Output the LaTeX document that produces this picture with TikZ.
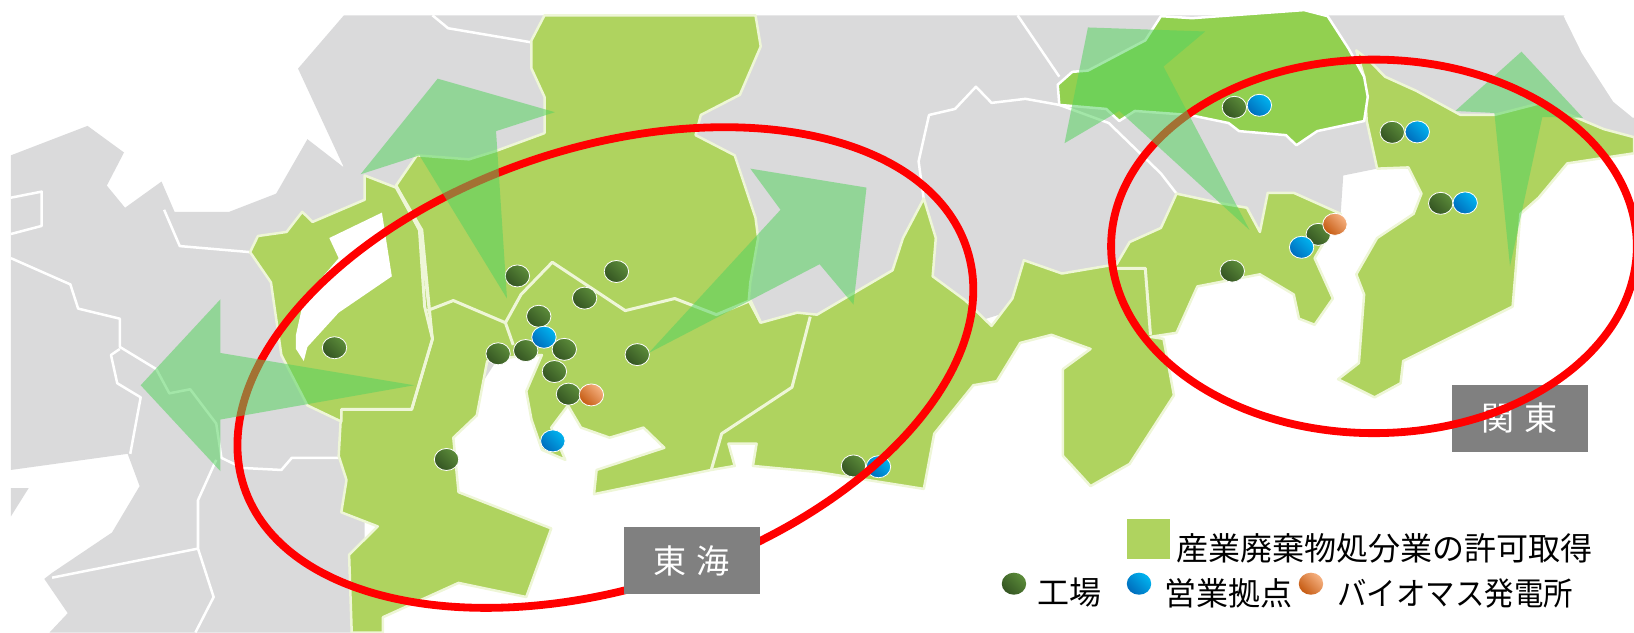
\documentclass[tikz,border=0pt]{standalone}
\usepackage{fontspec}
\newfontfamily\jp{Noto Sans CJK JP}
\definecolor{land}{RGB}{218,218,219}
\definecolor{licgreen}{RGB}{175,211,95}
\definecolor{brightgreen}{RGB}{146,208,80}
\definecolor{arrowgreen}{RGB}{85,210,95}
\definecolor{halo}{RGB}{238,246,215}
\definecolor{gA}{RGB}{92,140,58}\definecolor{gB}{RGB}{52,84,34}
\definecolor{bA}{RGB}{0,180,240}\definecolor{bB}{RGB}{0,108,188}
\definecolor{oA}{RGB}{246,178,130}\definecolor{oB}{RGB}{197,90,17}
\tikzset{
 greenland/.style={fill=licgreen,draw=halo,line width=0.025cm,line join=round},
 border/.style={draw=white,line width=0.025cm,line join=round},
 prefline/.style={draw=halo,line width=0.03cm,line join=round},
 arrowshape/.style={fill=arrowgreen,fill opacity=.54,draw=none},
 regionring/.style={draw=red,line width=0.078cm},
 regionbox/.style={fill=black!50,text=white,inner sep=0pt,minimum width=1.356cm,minimum height=0.668cm,font=\jp\fontsize{9.4pt}{11pt}\selectfont},
 legendtext/.style={inner sep=0pt,text=black,font=\jp\fontsize{9.1pt}{11pt}\selectfont},
}
\newcommand{\spot}[4][white]{\path[draw=#1,line width=0.008cm,shading=axis,left color=#4A,right color=#4B,shading angle=-45] (#2,#3) ellipse [x radius=0.122cm,y radius=0.11cm];}
\begin{document}
\begin{tikzpicture}[x=0.0052105cm,y=-0.0040242cm]
\useasboundingbox (0,0) rectangle (3136,1568);
% land
\fill[land] (660,38)--(3003,38)--(3038,130)--(3098,250)--(3136,290)--(3136,340)--(2868,420)--(2643,418)--(2578,435)--(2573,530)--(2368,600)--(1868,800)--(1000,800)--(900,1000)--(700,1100)--(700,1568)--(95,1568)--(130,1520)--(85,1435)--(100,1420)--(215,1320)--(268,1205)--(245,1125)--(21,1165)--(21,385)--(168,312)--(238,378)--(205,460)--(240,515)--(310,450)--(335,525)--(440,525)--(530,480)--(590,345)--(660,415)--(572,170)--cycle;
\fill[land] (21,1210)--(55,1210)--(21,1280)--cycle;
% grey boundaries
\draw[border] (21,490)--(80,475)--(80,560)--(21,580);
\draw[border] (21,640)--(135,705)--(150,765)--(230,790)--(230,860)--(300,915)--(325,975)--(365,965)--(415,1050)--(425,1135)--(465,1160)--(540,1165)--(560,1135)--(650,1135);
\draw[border] (230,865)--(213,880)--(225,950)--(270,985)--(250,1125);
\draw[border] (415,1140)--(380,1240)--(380,1360)--(410,1480)--(375,1568);
\draw[border] (100,1432)--(380,1360);
\draw[border] (315,520)--(345,610)--(480,625);
\draw[border] (830,38)--(860,70)--(1020,105);
\draw[border] (1953,38)--(2033,190);
\draw[border] (1773,495)--(1763,400)--(1783,285)--(1833,270)--(1873,215)--(1903,255)--(1968,245)--(2033,260)--(2128,305)--(2228,430)--(2258,480);
\draw[border] (3003,38)--(3038,130)--(3098,250)--(3136,290);
% licensed prefectures
\draw[greenland] (1045,38)--(1450,38)--(1460,115)--(1420,235)--(1345,285)--(1335,335)--(1410,385)--(1450,540)--(1455,590)--(1440,700)--(1437,745)--(1460,800)--(1530,775)--(1568,780)--(1713,670)--(1733,590)--(1773,492)--(1796,590)--(1790,685)--(1853,745)--(1903,808)--(1943,740)--(1965,645)--(2038,678)--(2143,655)--(2168,600)--(2228,565)--(2258,480)--(2348,505)--(2393,515)--(2418,575)--(2433,478)--(2483,478)--(2573,530)--(2523,640)--(2558,740)--(2523,805)--(2493,790)--(2483,730)--(2418,680)--(2298,710)--(2258,825)--(2208,835)--(2233,840)--(2253,980)--(2168,1150)--(2093,1205)--(2040,1130)--(2040,915)--(2093,865)--(2018,830)--(1958,850)--(1913,945)--(1868,955)--(1793,1075)--(1773,1212)--(1568,1170)--(1445,1155)--(1452,1100)--(1398,1100)--(1410,1155)--(1365,1165)--(1140,1225)--(1145,1165)--(1275,1110)--(1235,1060)--(1170,1085)--(1115,1060)--(1090,1005)--(1058,1060)--(1085,1140)--(1040,1115)--(1020,1040)--(1010,970)--(1040,880)--(985,885)--(935,895)--(915,1030)--(870,1085)--(880,1220)--(1058,1310)--(1010,1480)--(880,1445)--(735,1530)--(735,1568)--(675,1568)--(670,1375)--(725,1305)--(655,1270)--(665,1190)--(650,1130)--(655,1015)--(790,1015)--(830,840)--(810,570)--(760,460)--(800,385)--(900,395)--(950,375)--(1045,330)--(1045,240)--(1020,170)--(1020,100)--cycle;
\draw[greenland] (700,435)--(760,465)--(805,570)--(830,840)--(790,1015)--(655,1015)--(655,1045)--(590,1005)--(540,880)--(520,700)--(480,625)--(495,585)--(550,575)--(580,525)--(600,550)--(700,495)--cycle;
\fill[white] (632,590)--(733,527)--(752,685)--(650,775)--(590,860)--(583,895)--(568,865)--(568,830)--(580,760)--(610,700)--(650,640)--cycle;
\draw[greenland] (2603,125)--(2628,150)--(2658,190)--(2718,225)--(2803,285)--(2868,285)--(2958,255)--(3078,320)--(3136,340)--(3136,380)--(3008,405)--(2953,490)--(2918,530)--(2903,760)--(2693,895)--(2688,950)--(2638,985)--(2568,940)--(2608,900)--(2618,730)--(2603,680)--(2643,590)--(2713,530)--(2728,480)--(2703,415)--(2643,418)--(2623,300)--(2618,190)--cycle;
\draw[fill=brightgreen,draw=white,line width=0.025cm,line join=round] (2033,260)--(2030,210)--(2058,178)--(2088,175)--(2198,100)--(2228,40)--(2288,45)--(2503,25)--(2548,40)--(2588,120)--(2618,190)--(2625,240)--(2618,300)--(2528,325)--(2488,360)--(2468,335)--(2378,325)--(2358,305)--(2283,285)--(2178,275)--(2148,300)--(2123,270)--cycle;
% prefecture lines
\draw[prefline] (760,460)--(805,570)--(815,760)--(830,840)--(790,1015)--(655,1015);
\draw[prefline] (820,770)--(870,745)--(970,800)--(1000,730)--(1060,650)--(1200,770)--(1295,740)--(1375,780)--(1440,745)--(1460,800);
\draw[prefline] (970,800)--(985,855);
\draw[prefline] (1555,785)--(1520,960)--(1385,1075)--(1365,1165);
\draw[prefline] (2143,665)--(2198,665)--(2208,830);
% sites
\foreach \px/\py in {993/684,1183/673,1122/739,1034/784,956/877,1009/869,1083/866,1223/879,1064/921,1091/977,642/862,857/1139,1638/1155,2369/266,2672/328,2765/504,2530/581,2365/672}
 \spot{\px}{\py}{g};
\foreach \px/\py in {1044/836,1061/1093,1686/1157,2417/261,2720/327,2812/503,2498/613}
 \spot{\px}{\py}{b};
\foreach \px/\py in {1135/979,2562/556}
 \spot{\px}{\py}{o};
% legend markers
\spot[none]{1946}{1447}{g}
\spot[none]{2186}{1447}{b}
\spot[none]{2516}{1447}{o}
% 東海 ring and box
\draw[regionring,shift={(6.045cm,-3.67cm)},rotate=18.25] (0,0) ellipse [x radius=3.8cm,y radius=2.194cm];
\node[regionbox] (tokai) at (1328,1390) {東\hspace{0.3em}海};
% arrow under the 関東 ring
\fill[arrowshape] (2898,660)--(2868,280)--(2793,275)--(2920,128)--(3038,292)--(2960,290)--cycle;
% 関東 box and ring
\node[regionbox] (kanto) at (2917,1037) {関\hspace{0.3em}東};
\draw[regionring] (13.72cm,-2.46cm) ellipse [x radius=2.625cm,y radius=1.865cm];
% arrows
\fill[arrowshape] (973,740)--(805,385)--(692,432)--(840,195)--(1065,278)--(952,325)--cycle;
\fill[arrowshape] (270,955)--(423,742)--(423,875)--(795,955)--(423,1040)--(423,1168)--cycle;
\fill[arrowshape] (1245,875)--(1498,520)--(1440,418)--(1663,465)--(1638,755)--(1573,655)--cycle;
\fill[arrowshape] (2398,570)--(2233,165)--(2313,78)--(2088,68)--(2043,355)--(2148,275)--cycle;
% legend
\fill[licgreen] (2162,1287) rectangle (2245,1386);
\node[legendtext,anchor=west] (lic) at (2256,1360) {産業廃棄物処分業の許可取得};
\node[legendtext,anchor=west] (fac) at (1990,1470) {工場};
\node[legendtext,anchor=west] (off) at (2233,1470) {営業拠点};
\node[legendtext,anchor=west] (bio) at (2565,1470) {\scalebox{0.92}[1]{バイオマス発電所}};
\end{tikzpicture}
\end{document}
